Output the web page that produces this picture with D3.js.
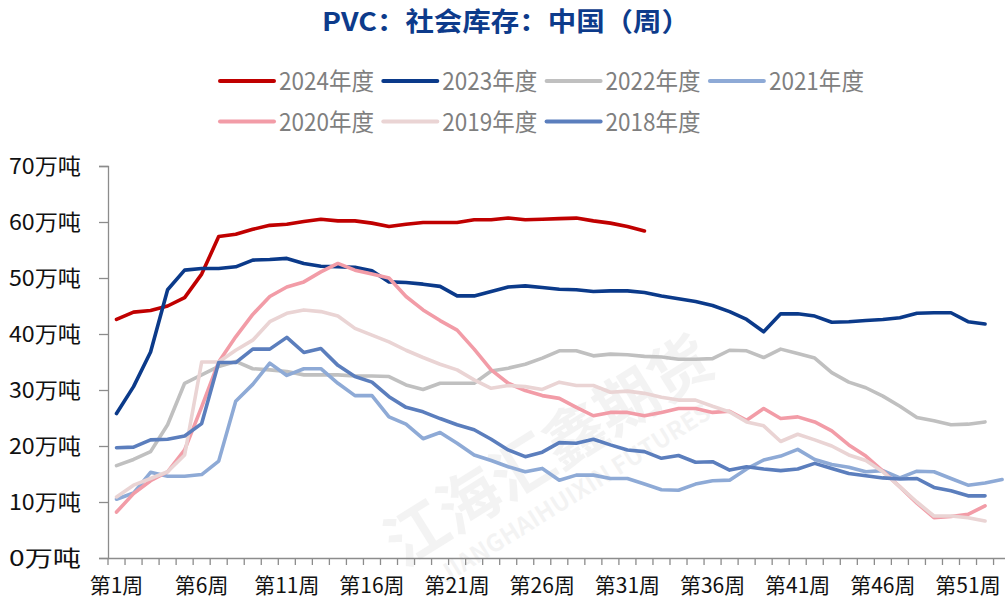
<!DOCTYPE html>
<html>
<head>
<meta charset="utf-8">
<script src="https://cdn.jsdelivr.net/npm/d3@7"></script>
<style>
  body { margin: 0; background: #fff; }
  svg { display: block; }
  text { font-family: "Noto Sans CJK SC", "Noto Sans", sans-serif; }
</style>
</head>
<body>
<div id="chart"></div>
<script>
// weekly PVC social inventory, 万吨
const weeks = d3.range(1, 54);
const tickWeeks = [1, 6, 11, 16, 21, 26, 31, 36, 41, 46, 51];
const yTicks = [0, 10, 20, 30, 40, 50, 60, 70];
const seriesNames = ["2024年度", "2023年度", "2022年度", "2021年度", "2020年度", "2019年度", "2018年度"];
const seriesColors = ["#c00000", "#0b3a8a", "#c0c0c0", "#8eaad6", "#f29ca7", "#ead4d4", "#5b7ebd"];

const v2024 = [42.6, 43.9, 44.2, 45.0, 46.5, 50.7, 57.4, 57.8, 58.7, 59.4, 59.6, 60.1, 60.5, 60.2,
  60.2, 59.8, 59.2, 59.6, 59.9, 59.9, 59.9, 60.4, 60.4, 60.7, 60.4, 60.5, 60.6, 60.7, 60.2, 59.8, 59.2, 58.4];
const v2023 = [25.8, 30.6, 36.8, 47.9, 51.4, 51.7, 51.7, 52.0, 53.2, 53.3, 53.5, 52.6, 52.1, 52.0,
  51.9, 51.3, 49.3, 49.2, 48.9, 48.5, 46.8, 46.8, 47.6, 48.4, 48.6, 48.3, 48.0, 47.9, 47.6, 47.7,
  47.7, 47.4, 46.8, 46.3, 45.8, 45.1, 44.0, 42.6, 40.4, 43.6, 43.6, 43.2, 42.1, 42.2, 42.4, 42.6,
  42.9, 43.7, 43.8, 43.8, 42.2, 41.8];
const v2022 = [16.5, 17.6, 19.0, 23.8, 31.2, 32.7, 34.2, 35.1, 33.8, 33.6, 33.3, 32.7, 32.7, 32.7,
  32.5, 32.5, 32.4, 30.9, 30.1, 31.2, 31.2, 31.2, 33.4, 33.9, 34.6, 35.7, 37.0, 37.0, 36.1, 36.4,
  36.3, 36.0, 35.9, 35.5, 35.5, 35.6, 37.1, 37.0, 35.8, 37.3, 36.5, 35.7, 33.1, 31.4, 30.4, 28.9,
  27.1, 25.1, 24.5, 23.8, 23.9, 24.3];
const v2021 = [10.5, 11.6, 15.3, 14.6, 14.6, 14.9, 17.3, 28.0, 31.0, 34.8, 32.6, 33.8, 33.8, 31.2,
  29.0, 29.0, 25.2, 23.9, 21.3, 22.4, 20.5, 18.4, 17.4, 16.3, 15.4, 16.0, 13.9, 14.8, 14.8, 14.2,
  14.2, 13.2, 12.2, 12.1, 13.2, 13.8, 13.9, 15.9, 17.5, 18.2, 19.4, 17.6, 16.7, 16.2, 15.4, 15.6,
  14.3, 15.5, 15.4, 14.2, 13.0, 13.4, 14.0];
const v2020 = [8.2, 11.5, 13.8, 15.4, 19.3, 27.0, 35.0, 39.5, 43.5, 46.7, 48.4, 49.3, 51.1, 52.6,
  51.4, 50.7, 50.0, 46.7, 44.3, 42.4, 40.7, 37.3, 33.6, 31.2, 29.9, 29.0, 28.5, 26.9, 25.4, 26.0,
  26.0, 25.4, 26.0, 26.7, 26.7, 26.0, 26.2, 24.6, 26.7, 24.9, 25.2, 24.3, 22.7, 20.2, 18.2, 15.5,
  12.7, 9.8, 7.2, 7.4, 7.8, 9.3];
const v2019 = [10.9, 13.0, 14.2, 15.4, 18.4, 35.0, 35.0, 37.1, 38.9, 42.2, 43.7, 44.3, 44.0, 43.2,
  41.0, 39.8, 38.6, 37.1, 35.8, 34.6, 33.6, 31.8, 30.3, 30.8, 30.6, 30.1, 31.4, 30.8, 30.8, 29.6,
  29.8, 29.4, 28.7, 28.2, 28.2, 27.1, 26.1, 24.3, 23.6, 20.8, 22.1, 21.1, 20.0, 18.4, 17.4, 15.4,
  12.7, 10.0, 7.5, 7.5, 7.2, 6.6];
const v2018 = [19.7, 19.8, 21.1, 21.2, 21.8, 24.0, 34.9, 34.9, 37.3, 37.3, 39.4, 36.7, 37.4, 34.4,
  32.4, 31.4, 28.8, 26.9, 26.1, 24.9, 23.8, 22.9, 21.2, 19.3, 18.1, 18.9, 20.6, 20.5, 21.2, 20.2,
  19.3, 19.0, 17.8, 18.3, 17.1, 17.2, 15.7, 16.3, 15.9, 15.6, 15.9, 16.9, 16.0, 15.1, 14.7, 14.3,
  14.1, 14.2, 12.6, 12.0, 11.1, 11.1];
const seriesValues = [v2024, v2023, v2022, v2021, v2020, v2019, v2018];

const W = 1005, H = 600;
const svg = d3.select("#chart").append("svg")
    .attr("width", W)
    .attr("height", H);

// faint watermark
const wm = svg.append("g").attr("transform", "translate(560,470) rotate(-32)");
wm.append("text").attr("text-anchor", "middle").attr("font-size", 62).attr("font-weight", "bold")
    .attr("fill", "#000").attr("opacity", 0.045).text("江海汇鑫期货");
wm.append("text").attr("text-anchor", "middle").attr("y", 36).attr("font-size", 24).attr("font-weight", "bold")
    .attr("fill", "#000").attr("opacity", 0.045).text("JIANGHAIHUIXIN FUTURES");

// scales
const x = d3.scaleBand()
    .domain(weeks)
    .range([108, 108 + 53 * 17.03]);

const y = d3.scaleLinear()
    .domain([0, 70])
    .range([558, 166]);

// title
svg.append("text")
    .attr("x", 506).attr("y", 31)
    .attr("text-anchor", "middle")
    .attr("font-size", 26).attr("font-weight", "bold")
    .attr("fill", "#0d3b8b")
    .attr("textLength", 368).attr("lengthAdjust", "spacingAndGlyphs")
    .text("PVC：社会库存：中国（周）");

// legend
const legend = svg.append("g");
seriesNames.forEach((name, i) => {
    const col = i % 4, row = Math.floor(i / 4);
    const lx = 220 + col * 163.3, ly = 81 + row * 40.5;
    legend.append("line")
        .attr("x1", lx).attr("x2", lx + 54)
        .attr("y1", ly).attr("y2", ly)
        .attr("stroke", seriesColors[i]).attr("stroke-width", 4).attr("stroke-linecap", "round");
    legend.append("text")
        .attr("x", lx + 59).attr("y", ly + 9)
        .attr("font-size", 24).attr("fill", "#7f7f7f")
        .attr("textLength", 95).attr("lengthAdjust", "spacingAndGlyphs")
        .text(name);
});

// y axis
const yAxis = svg.append("g")
    .attr("transform", "translate(108,0)")
    .call(d3.axisLeft(y).tickValues(yTicks).tickSize(9).tickPadding(18).tickFormat(d => d + "万吨"));
yAxis.select(".domain").attr("stroke", "#8c8c8c").attr("stroke-width", 1.3);
yAxis.selectAll(".tick line").attr("stroke", "#8c8c8c").attr("stroke-width", 1.3);
yAxis.selectAll(".tick text")
    .attr("font-size", 22).attr("fill", "#111")
    .attr("font-family", "\"Noto Sans CJK SC\", sans-serif")
    .attr("textLength", 72).attr("lengthAdjust", "spacingAndGlyphs");

// x axis: baseline, boundary ticks and week labels
const xAxis = svg.append("g")
    .attr("transform", "translate(0,558)")
    .call(d3.axisBottom(x).tickValues(tickWeeks).tickSize(0).tickPadding(20).tickFormat(d => "第" + d + "周"));
xAxis.select(".domain").attr("stroke", "#8c8c8c").attr("stroke-width", 1.3);
xAxis.selectAll(".tick text")
    .attr("font-size", 21).attr("fill", "#111")
    .attr("font-family", "\"Noto Sans CJK SC\", sans-serif");

const edges = weeks.map(w => x(w)).concat([x(53) + x.bandwidth()]);
xAxis.selectAll(".edge")
    .data(edges)
    .enter()
    .append("line")
    .attr("class", "edge")
    .attr("x1", d => d).attr("x2", d => d)
    .attr("y1", 0).attr("y2", 7)
    .attr("stroke", "#8c8c8c").attr("stroke-width", 1.3);

// lines
const line = d3.line()
    .x((d, i) => x(weeks[i]) + x.bandwidth() / 2)
    .y(d => y(d));

seriesValues.forEach((vals, i) => {
    svg.append("path")
        .datum(vals)
        .attr("fill", "none")
        .attr("stroke", seriesColors[i])
        .attr("stroke-width", 3.6)
        .attr("stroke-linejoin", "round")
        .attr("stroke-linecap", "round")
        .attr("d", line);
});
</script>
</body>
</html>
